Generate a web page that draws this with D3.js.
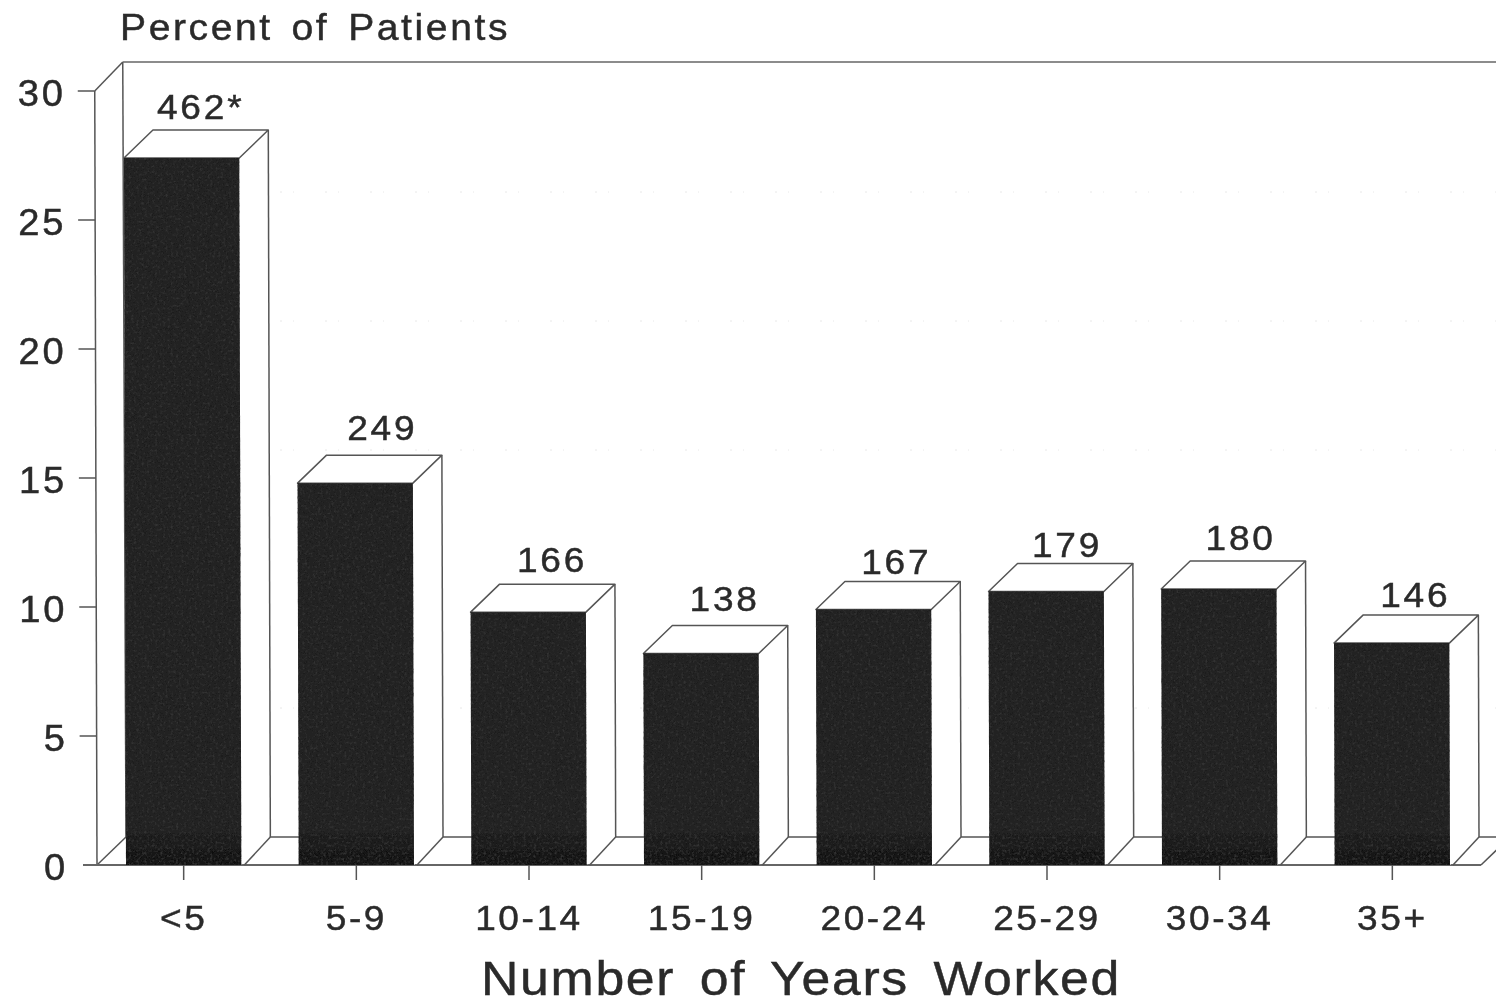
<!DOCTYPE html>
<html><head><meta charset="utf-8">
<script src="https://cdn.jsdelivr.net/npm/d3@7/dist/d3.min.js"></script>
<style>html,body{margin:0;background:#fff;overflow:hidden}svg{display:block}
text{font-family:"Liberation Sans",Arial,sans-serif;fill:#2a2a2a;stroke:#2a2a2a;stroke-width:.45}</style></head>
<body><script>
const categories=["<5","5-9","10-14","15-19","20-24","25-29","30-34","35+"];
const percents=[27.4,14.8,9.8,8.2,9.9,10.6,10.7,8.6];
const counts=["462*","249","166","138","167","179","180","146"];
const yTicks=[0,5,10,15,20,25,30];
const fainterGrid=[5,15,20,25];
const yTitle="Percent of Patients";
const xTitle="Number of Years Worked";
// layout constants
const labelLift=[11,15,12,14,8,7,11,8];
const labelShift=[17,26,23,23,22,20,21,23];
const W=1496,H=1006,DX=29,DY=28;

const y=d3.scaleLinear().domain([0,30]).range([865,91]);
const x=d3.scaleBand().domain(categories).range([126,1450]).paddingInner(0.332);
const lean=v=>-v*0.075;
const axisX=97;

const svg=d3.select("body").append("svg").attr("width",W).attr("height",H);
const defs=svg.append("defs");
const soft=defs.append("filter").attr("id","soft").attr("filterUnits","userSpaceOnUse")
  .attr("x",0).attr("y",0).attr("width",W).attr("height",H);
soft.append("feGaussianBlur").attr("stdDeviation",0.55);
const grad=defs.append("linearGradient").attr("id","ink").attr("gradientUnits","userSpaceOnUse")
  .attr("x1",0).attr("y1",825).attr("x2",0).attr("y2",865);
grad.append("stop").attr("offset","0%").attr("stop-color","#232323");
grad.append("stop").attr("offset","100%").attr("stop-color","#141414");
const grain=defs.append("filter").attr("id","grain").attr("x",0).attr("y",0).attr("width","100%").attr("height","100%");
grain.append("feTurbulence").attr("type","fractalNoise").attr("baseFrequency",0.38).attr("numOctaves",2).attr("seed",4).attr("result","n");
grain.append("feColorMatrix").attr("in","n").attr("type","matrix")
  .attr("values","0 0 0 0 0.03  0 0 0 0 0.03  0 0 0 0 0.03  3.2 0 0 0 -1.5").attr("result","d");
grain.append("feComposite").attr("in","d").attr("in2","SourceGraphic").attr("operator","in").attr("result","c");
grain.append("feMerge").selectAll("feMergeNode").data(["SourceGraphic","c"]).join("feMergeNode").attr("in",d=>d);

const g=svg.append("g").attr("filter","url(#soft)");
const line="#555";
const seg=(p,x1,y1,x2,y2,sw=1.5,c=line)=>p.append("line").attr("x1",x1).attr("y1",y1).attr("x2",x2).attr("y2",y2)
  .attr("stroke",c).attr("stroke-width",sw);
// widen a text slightly, with open letter-spacing, to mimic the original face
const stretch=(sel,f,ls)=>sel.attr("letter-spacing",ls).each(function(){
  const len=this.getComputedTextLength();
  d3.select(this).attr("textLength",len*f).attr("lengthAdjust","spacingAndGlyphs");
});

// faint grid traces on the back wall
g.append("g").selectAll("line").data(fainterGrid).join("line")
  .attr("x1",280).attr("x2",W).attr("y1",d=>y(d)-DY).attr("y2",d=>y(d)-DY)
  .attr("stroke","#e8e8e8").attr("stroke-width",1).attr("stroke-dasharray","2 11 1 31");

// walls and floor
seg(g,axisX+lean(30),y(30),axisX+lean(0),y(0));
seg(g,axisX+lean(30)+DX-1,y(30)-DY-1,axisX+DX,y(0)-DY);
seg(g,axisX+lean(30),y(30),axisX+lean(30)+DX-1,y(30)-DY-1);
seg(g,axisX+lean(30)+DX-1,y(30)-DY-1,W,y(30)-DY-1,1.3,"#666");
seg(g,axisX,y(0),axisX+DX,y(0)-DY);
seg(g,axisX+DX,y(0)-DY,W,y(0)-DY);
const lastRight=x(categories[7])+x.bandwidth();
seg(g,83,y(0),lastRight+31,y(0),1.8,"#666");
seg(g,lastRight+31,y(0),lastRight+31+DX,y(0)-DY);

// bars
const bars=g.append("g").selectAll("g").data(categories).join("g");
bars.each(function(c,i){
  const s=d3.select(this),v=percents[i],b=x.bandwidth();
  const x0=x(c),xt=x0+lean(v),t=y(v),base=y(0);
  const pts=a=>a.map(p=>p.join(",")).join(" ");
  s.append("polygon").attr("points",pts([[x0+b,base],[x0+b+DX,base-DY],[xt+b+DX,t-DY],[xt+b,t]])).attr("fill","#fff");
  s.append("polygon").attr("points",pts([[xt,t],[xt+DX,t-DY],[xt+b+DX,t-DY],[xt+b,t]]))
    .attr("fill","#fff").attr("stroke",line).attr("stroke-width",1.5).attr("stroke-linejoin","round");
  seg(s,xt+b+DX,t-DY,x0+b+DX,base-DY);
  seg(s,x0+b+3,base,x0+b+DX,base-DY);
  s.append("polygon").attr("points",pts([[x0,base],[xt,t],[xt+b,t],[x0+b,base]]))
    .attr("fill","url(#ink)").attr("filter","url(#grain)");
  s.append("text").attr("x",x0+b/2+labelShift[i]).attr("y",t-DY-labelLift[i]).attr("text-anchor","middle")
    .attr("font-size",35).text(counts[i]).call(stretch,1.06,2.6);
  seg(s,x0+b/2,base,x0+b/2,base+15);
  s.append("text").attr("x",x0+b/2).attr("y",930).attr("text-anchor","middle")
    .attr("font-size",35).text(c).call(stretch,1.06,2.4);
});

// y axis ticks and labels
const yAxis=g.append("g").selectAll("g").data(yTicks).join("g");
yAxis.filter(d=>d>0).append("line").attr("x1",d=>axisX+lean(d)-17).attr("x2",d=>axisX+lean(d))
  .attr("y1",d=>y(d)).attr("y2",d=>y(d)).attr("stroke",line).attr("stroke-width",1.5);
yAxis.append("text").attr("x",d=>68+lean(d)).attr("y",d=>y(d)+15).attr("text-anchor","end")
  .attr("font-size",36).text(d=>d).call(stretch,1.06,2.6);

// titles
g.append("text").attr("x",120).attr("y",40).attr("font-size",36).attr("letter-spacing",2.4)
  .attr("word-spacing",5).text(yTitle).attr("textLength",390).attr("lengthAdjust","spacingAndGlyphs");
g.append("text").attr("x",801).attr("y",995).attr("text-anchor","middle").attr("font-size",49)
  .attr("letter-spacing",1.6).attr("word-spacing",8).text(xTitle)
  .attr("textLength",640).attr("lengthAdjust","spacingAndGlyphs");
</script></body></html>
